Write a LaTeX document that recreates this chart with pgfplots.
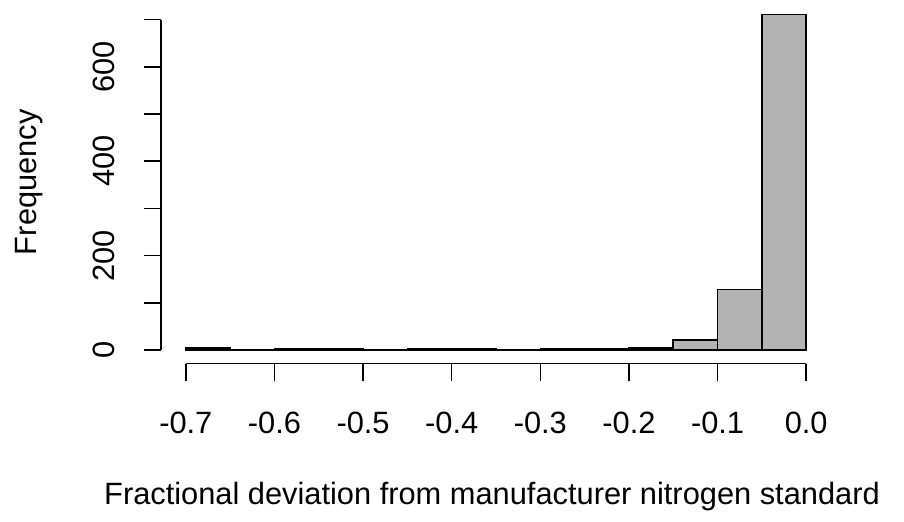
\documentclass[border=0pt]{standalone}
\usepackage{pgfplots}
\pgfplotsset{compat=1.18}
\usepackage{fontspec}
\setmainfont{Liberation Sans}
\definecolor{barfill}{HTML}{B3B3B3}
\begin{document}
\begin{tikzpicture}
\useasboundingbox (-80.5pt,-78.75pt) rectangle (371.5pt,181.75pt);
\begin{axis}[
 at={(0,0)}, anchor=south west,
 scale only axis, width=335pt, height=181.25pt,
 xmin=-0.728, xmax=0.028, ymin=-28.44, ymax=739.44,
 axis x line*=bottom, axis y line*=left,
 axis line style={draw=none},
 tick align=outside, major tick length=8.5pt,
 tick style={black, line width=0.75pt},
 xtick={-0.7,-0.6,-0.5,-0.4,-0.3,-0.2,-0.1,0},
 xticklabels={-0.7,-0.6,-0.5,-0.4,-0.3,-0.2,-0.1,0.0},
 ytick={0,100,200,300,400,500,600,700},
 yticklabels={0,,200,,400,,600,},
 every tick label/.append style={font=\fontsize{15.4}{18}\selectfont},
 x tick label style={anchor=center, yshift=-21pt},
 y tick label style={rotate=90, anchor=center, yshift=20pt},
 clip=false,
]
\addplot[ybar interval, fill=barfill, draw=black, line width=0.75pt] coordinates {
(-0.70,4) (-0.65,1) (-0.60,2) (-0.55,2) (-0.50,0) (-0.45,3) (-0.40,3)
(-0.35,1) (-0.30,2) (-0.25,2) (-0.20,4) (-0.15,21) (-0.10,128) (-0.05,711) (0,711)};
\draw[line width=0.75pt] (axis cs:-0.7,-28.44) -- (axis cs:0,-28.44);
\draw[line width=0.75pt] (axis cs:-0.728,0) -- (axis cs:-0.728,700);
\end{axis}
\node[rotate=90, font=\fontsize{15.4}{18}\selectfont] at (-66pt,90.6pt) {Frequency};
\node[font=\fontsize{15.4}{18}\selectfont] at (165.5pt,-66.5pt) {Fractional deviation from manufacturer nitrogen standard};
\end{tikzpicture}
\end{document}
